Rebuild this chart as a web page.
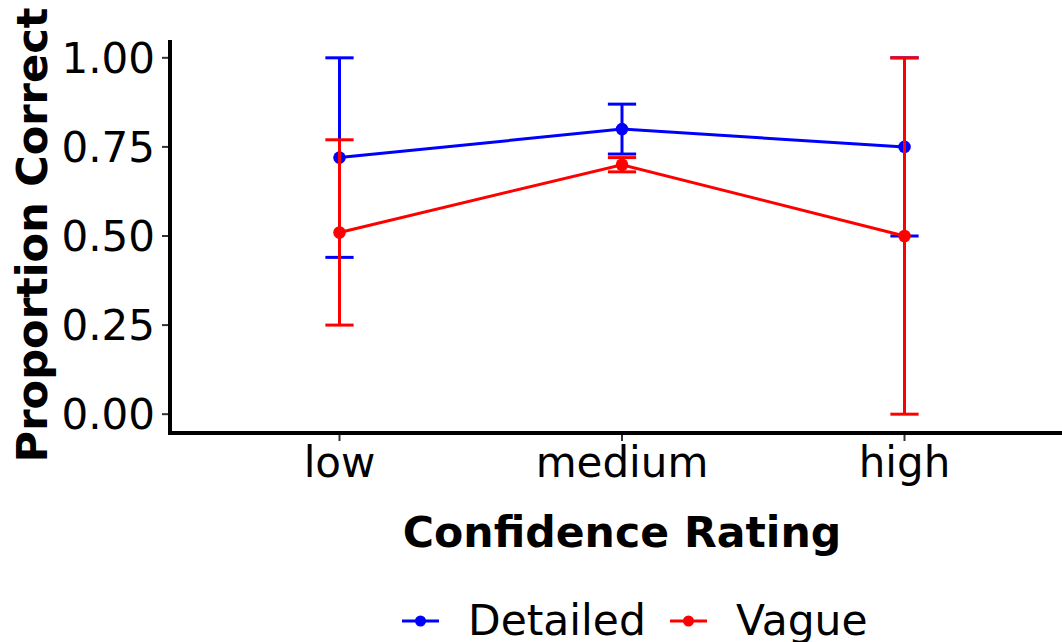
<!DOCTYPE html>
<html>
<head>
<meta charset="utf-8">
<script src="https://cdn.jsdelivr.net/npm/d3@7"></script>
<style>
  body { margin: 0; background: #fff; }
  svg { display: block; font-family: "DejaVu Sans", sans-serif; }
</style>
</head>
<body>
<div class="content"></div>
<script>
//--> Data
const ratings = ["low", "medium", "high"];
const seriesNames = ["Detailed", "Vague"];
const seriesColors = ["#0000ff", "#ff0000"];
const detailedMean = [0.72, 0.80, 0.75];
const detailedLow = [0.44, 0.73, 0.50];
const detailedHigh = [1.00, 0.87, 1.00];
const vagueMean = [0.51, 0.70, 0.50];
const vagueLow = [0.25, 0.68, 0.00];
const vagueHigh = [0.77, 0.72, 1.00];
const yTicks = [0, 0.25, 0.5, 0.75, 1];

const series = [
  { name: seriesNames[0], color: seriesColors[0], mean: detailedMean, lo: detailedLow, hi: detailedHigh },
  { name: seriesNames[1], color: seriesColors[1], mean: vagueMean, lo: vagueLow, hi: vagueHigh },
];

//--> Set up main elements
const width = 1062;
const height = 642;
const panel = { left: 170, top: 40, bottom: 432, right: 1074 };

const svg = d3
  .select(".content")
  .append("svg")
  .attr("width", width)
  .attr("height", height);

const x = d3
  .scalePoint()
  .domain(ratings)
  .range([panel.left, panel.right])
  .padding(0.6);

const y = d3
  .scaleLinear()
  .domain([-0.05, 1.05])
  .range([panel.bottom, panel.top]);

const step = x.step();
const capHalf = step * 0.05;

//--> Axes
svg
  .append("g")
  .selectAll("line")
  .data(yTicks)
  .join("line")
  .attr("x1", panel.left - 8)
  .attr("x2", panel.left)
  .attr("y1", d => y(d))
  .attr("y2", d => y(d))
  .attr("stroke", "#333")
  .attr("stroke-width", 2);

svg
  .append("g")
  .selectAll("text")
  .data(yTicks)
  .join("text")
  .attr("x", panel.left - 15)
  .attr("y", d => y(d))
  .attr("dy", "0.36em")
  .attr("text-anchor", "end")
  .attr("font-size", 42)
  .attr("fill", "#000")
  .text(d => d.toFixed(2));

svg
  .append("g")
  .selectAll("line")
  .data(ratings)
  .join("line")
  .attr("x1", d => x(d))
  .attr("x2", d => x(d))
  .attr("y1", panel.bottom)
  .attr("y2", panel.bottom + 9)
  .attr("stroke", "#333")
  .attr("stroke-width", 2);

svg
  .append("g")
  .selectAll("text")
  .data(ratings)
  .join("text")
  .attr("x", d => x(d))
  .attr("y", 477)
  .attr("text-anchor", "middle")
  .attr("font-size", 42)
  .attr("fill", "#000")
  .text(d => d);

svg
  .append("line")
  .attr("x1", panel.left)
  .attr("x2", panel.left)
  .attr("y1", panel.top)
  .attr("y2", panel.bottom + 2)
  .attr("stroke", "#000")
  .attr("stroke-width", 4);

svg
  .append("line")
  .attr("x1", panel.left - 2)
  .attr("x2", width)
  .attr("y1", panel.bottom + 1)
  .attr("y2", panel.bottom + 1)
  .attr("stroke", "#000")
  .attr("stroke-width", 4);

//--> Axis titles
svg
  .append("text")
  .attr("x", x("medium"))
  .attr("y", 547)
  .attr("text-anchor", "middle")
  .attr("font-size", 42.6)
  .attr("font-weight", "bold")
  .text("Confidence Rating");

svg
  .append("text")
  .attr("transform", `translate(47, ${(panel.top + panel.bottom) / 2 - 1}) rotate(-90)`)
  .attr("text-anchor", "middle")
  .attr("font-size", 43.2)
  .attr("font-weight", "bold")
  .text("Proportion Correct");

//--> Series
const line = d3
  .line()
  .x(d => x(d.r))
  .y(d => y(d.v));

series.forEach(s => {
  const rows = ratings.map((r, i) => ({ r, v: s.mean[i], lo: s.lo[i], hi: s.hi[i] }));
  const g = svg.append("g");

  g.append("path")
    .datum(rows)
    .attr("d", line)
    .attr("fill", "none")
    .attr("stroke", s.color)
    .attr("stroke-width", 3);

  g.selectAll("circle")
    .data(rows)
    .join("circle")
    .attr("cx", d => x(d.r))
    .attr("cy", d => y(d.v))
    .attr("r", 6.3)
    .attr("fill", s.color);

  const bars = g.selectAll("g.bar").data(rows).join("g").attr("class", "bar")
    .attr("stroke", s.color)
    .attr("stroke-width", 3);

  bars.append("line")
    .attr("x1", d => x(d.r))
    .attr("x2", d => x(d.r))
    .attr("y1", d => y(d.lo))
    .attr("y2", d => y(d.hi));

  bars.append("line")
    .attr("x1", d => x(d.r) - capHalf)
    .attr("x2", d => x(d.r) + capHalf)
    .attr("y1", d => y(d.hi))
    .attr("y2", d => y(d.hi));

  bars.append("line")
    .attr("x1", d => x(d.r) - capHalf)
    .attr("x2", d => x(d.r) + capHalf)
    .attr("y1", d => y(d.lo))
    .attr("y2", d => y(d.lo));
});

//--> Legend
const legend = svg.append("g").attr("transform", "translate(0, 621)");
const legendX = [402, 670];

series.forEach((s, i) => {
  const item = legend.append("g").attr("transform", `translate(${legendX[i]}, 0)`);
  item.append("line")
    .attr("x1", 0)
    .attr("x2", 37)
    .attr("stroke", s.color)
    .attr("stroke-width", 3);
  item.append("circle")
    .attr("cx", 18.5)
    .attr("r", 5.5)
    .attr("fill", s.color);
  item.append("text")
    .attr("x", 66)
    .attr("y", 14)
    .attr("font-size", 42.4)
    .text(s.name);
});
</script>
</body>
</html>
